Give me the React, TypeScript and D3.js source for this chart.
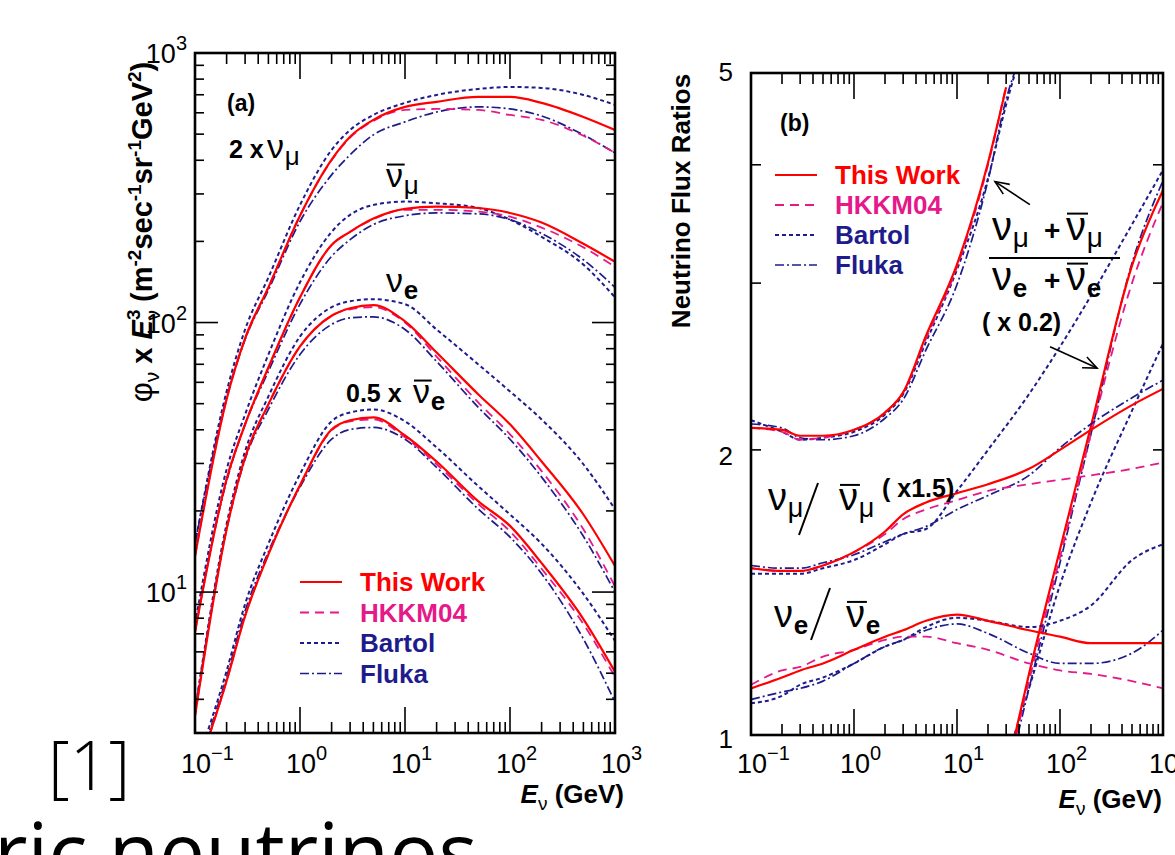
import React from "react";
import * as d3 from "d3";

// ---------- panel (a): flux x E^3 (plotted values, 2x numu and 0.5x nuebar already applied)
const energies = [0.1, 0.2, 0.3, 0.5, 1, 2, 3, 5, 10, 20, 50, 100, 200, 500, 1000];

const twoNumuThisWork = [13.6, 51.9, 87.3, 135, 249, 402, 489, 565, 631, 659, 687, 687, 653, 579, 518];
const twoNumuHKKM = [13.6, 52, 87, 135, 249, 400, 485, 560, 615, 620, 615, 589, 565, 493, 426];
const twoNumuBartol = [15.1, 55.5, 94.2, 147, 273, 437, 518, 589, 653, 699, 736, 748, 742, 699, 642];
const twoNumuFluka = [15.1, 52.7, 86.5, 132, 237, 353, 419, 497, 555, 604, 631, 620, 584, 497, 426];

const numubarThisWork = [7.11, 26.2, 41.9, 68.1, 124, 194, 217, 243, 264, 269, 266, 255, 235, 196, 168];
const numubarHKKM = [7.1, 26.3, 42, 68, 124, 194, 217, 242, 262, 262, 258, 247, 225, 190, 161];
const numubarBartol = [7.61, 28.5, 45.6, 76.1, 141, 217, 251, 273, 281, 277, 266, 241, 208, 164, 124];
const numubarFluka = [7.29, 25.8, 41.9, 65.9, 117, 176, 203, 231, 249, 255, 253, 241, 214, 171, 135];

const nueThisWork = [3.47, 17.1, 31.6, 49.7, 81.5, 106, 113, 116, 101, 77.4, 54.1, 41.9, 30.5, 19.4, 12.5];
const nueHKKM = [3.47, 17.1, 31.6, 49.7, 81.5, 106, 112, 114, 100, 74.8, 50.5, 38.5, 28.1, 17.1, 10.5];
const nueBartol = [3.62, 17.9, 33.3, 53.2, 88.7, 114, 120, 122, 117, 94.2, 69.9, 55.5, 43.7, 29.8, 20.3];
const nueFluka = [3.62, 17.1, 31.1, 47.6, 76.1, 98.4, 104, 105, 94.2, 71.7, 48.4, 36.9, 26.7, 16.1, 10.0];

const halfNuebarThisWork = [2.05, 4.68, 8.15, 13.8, 24.9, 40.1, 43.4, 44.5, 38.1, 30.5, 21.7, 17.6, 12.8, 7.94, 5.06];
const halfNuebarHKKM = [2.05, 4.68, 8.15, 13.8, 24.9, 39.8, 43.0, 43.7, 37.5, 29.8, 21.2, 16.8, 12.2, 7.61, 4.84];
const halfNuebarBartol = [2.21, 5.1, 9.03, 15.1, 27.4, 43.0, 46.4, 47.6, 43.0, 34.4, 24.7, 19.4, 15.1, 9.84, 6.59];
const halfNuebarFluka = [2.12, 4.84, 8.51, 14.1, 24.5, 36.9, 40.1, 40.8, 36.9, 29.0, 20.3, 16.0, 11.7, 6.7, 3.91];

// ---------- panel (b): flux ratios
const energiesFlavor = [0.1, 0.2, 0.3, 0.5, 1, 2, 3, 5, 10, 20, 30];
const energiesFlavorLong = [0.1, 0.2, 0.3, 0.5, 1, 2, 3, 5, 10, 20, 30, 40];
const flavorThisWork = [2.11, 2.1, 2.07, 2.07, 2.1, 2.19, 2.3, 2.64, 3.14, 4.02, 4.83];
const flavorHKKM = [2.11, 2.09, 2.05, 2.06, 2.1, 2.19, 2.3, 2.62, 3.12, 4.0, 4.85];
const flavorBartol = [2.15, 2.09, 2.05, 2.06, 2.09, 2.18, 2.29, 2.6, 3.1, 3.87, 4.63, 5.16];
const flavorFluka = [2.13, 2.11, 2.06, 2.05, 2.07, 2.16, 2.26, 2.55, 2.99, 3.85, 4.69, 5.16];

// (nu_mu + nu_mu-bar)/(nu_e + nu_e-bar) x 0.2
const energiesScaled = [30, 50, 100, 200, 500, 1000];
const scaledThisWork = [0.91, 1.16, 1.57, 2.12, 3.13, 3.76];
const scaledHKKM = [0.9, 1.14, 1.54, 2.08, 3.0, 3.65];
const scaledBartol = [0.94, 1.12, 1.44, 1.76, 2.2, 2.59];
const scaledFluka = [0.89, 1.12, 1.52, 2.08, 3.15, 3.85];

// nu_mu / nu_mu-bar x 1.5 and nu_e / nu_e-bar
const numuRatioThisWork = [1.5, 1.49, 1.49, 1.51, 1.56, 1.64, 1.71, 1.76, 1.8, 1.84, 1.91, 2.0, 2.1, 2.23, 2.32];
const numuRatioHKKM = [1.5, 1.49, 1.49, 1.51, 1.56, 1.63, 1.69, 1.73, 1.77, 1.81, 1.84, 1.86, 1.88, 1.91, 1.94];
const numuRatioBartol = [1.48, 1.48, 1.48, 1.5, 1.53, 1.59, 1.63, 1.65, 1.81, 2.0, 2.29, 2.57, 2.91, 3.46, 3.95];
const numuRatioFluka = [1.51, 1.5, 1.5, 1.52, 1.55, 1.6, 1.63, 1.66, 1.73, 1.79, 1.88, 2.01, 2.13, 2.27, 2.37];

const nueRatioThisWork = [1.12, 1.15, 1.17, 1.19, 1.23, 1.27, 1.29, 1.32, 1.34, 1.32, 1.29, 1.27, 1.25, 1.25, 1.25];
const nueRatioHKKM = [1.13, 1.17, 1.18, 1.21, 1.23, 1.26, 1.27, 1.27, 1.25, 1.23, 1.19, 1.17, 1.16, 1.14, 1.12];
const nueRatioBartol = [1.08, 1.1, 1.13, 1.15, 1.19, 1.24, 1.26, 1.3, 1.33, 1.32, 1.3, 1.32, 1.37, 1.53, 1.59];
const nueRatioFluka = [1.09, 1.11, 1.12, 1.14, 1.19, 1.24, 1.26, 1.29, 1.31, 1.28, 1.22, 1.19, 1.19, 1.22, 1.29];

const models = ["This Work", "HKKM04", "Bartol", "Fluka"];
const decades = [0.1, 1, 10, 100, 1000];
const decadeExps = ["\u22121", "0", "1", "2", "3"];
const fluxTicks = [10, 100, 1000];
const fluxTickExps = ["1", "2", "3"];
const ratioTicks = [1, 2, 5];

const FONT = "'Liberation Sans', Arial, Helvetica, sans-serif";
const RED = "#ff0000";
const PINK = "#e5198a";
const NAVY = "#1e1c8c";

const styles: Record<string, { stroke: string; width: number; dash?: string }> = {
  "This Work": { stroke: RED, width: 2.2 },
  HKKM04: { stroke: PINK, width: 1.8, dash: "9 6" },
  Bartol: { stroke: NAVY, width: 2, dash: "4 3" },
  Fluka: { stroke: NAVY, width: 1.7, dash: "9 3 2 3" },
};
const textColor: Record<string, string> = { "This Work": RED, HKKM04: PINK, Bartol: NAVY, Fluka: NAVY };

const drawOrder = ["Bartol", "Fluka", "HKKM04", "This Work"];

const fluxSeries = [
  { "This Work": twoNumuThisWork, HKKM04: twoNumuHKKM, Bartol: twoNumuBartol, Fluka: twoNumuFluka },
  { "This Work": numubarThisWork, HKKM04: numubarHKKM, Bartol: numubarBartol, Fluka: numubarFluka },
  { "This Work": nueThisWork, HKKM04: nueHKKM, Bartol: nueBartol, Fluka: nueFluka },
  { "This Work": halfNuebarThisWork, HKKM04: halfNuebarHKKM, Bartol: halfNuebarBartol, Fluka: halfNuebarFluka },
];

const ratioSeries = [
  {
    "This Work": [energiesFlavor, flavorThisWork],
    HKKM04: [energiesFlavor, flavorHKKM],
    Bartol: [energiesFlavorLong, flavorBartol],
    Fluka: [energiesFlavorLong, flavorFluka],
  },
  {
    "This Work": [energiesScaled, scaledThisWork],
    HKKM04: [energiesScaled, scaledHKKM],
    Bartol: [energiesScaled, scaledBartol],
    Fluka: [energiesScaled, scaledFluka],
  },
  {
    "This Work": [energies, numuRatioThisWork],
    HKKM04: [energies, numuRatioHKKM],
    Bartol: [energies, numuRatioBartol],
    Fluka: [energies, numuRatioFluka],
  },
  {
    "This Work": [energies, nueRatioThisWork],
    HKKM04: [energies, nueRatioHKKM],
    Bartol: [energies, nueRatioBartol],
    Fluka: [energies, nueRatioFluka],
  },
];

const isDecade = (t: number) => Math.abs(Math.log10(t) - Math.round(Math.log10(t))) < 1e-6;

function path(xs: number[], ys: number[], x: any, y: any) {
  return d3
    .line<number>()
    .x((_, i) => x(xs[i]))
    .y((d) => y(d))
    .curve(d3.curveMonotoneX)(ys) || "";
}

function Curve({ model, d }: { model: string; d: string }) {
  const s = styles[model];
  return <path d={d} fill="none" stroke={s.stroke} strokeWidth={s.width} strokeDasharray={s.dash} />;
}

function Frame({ x, y, yMajor, yMinor }: any) {
  const [x0, x1] = x.range();
  const [y0, y1] = y.range();
  const xt = x.ticks();
  const yt = y.ticks();
  return (
    <g stroke="#000" fill="none">
      {xt.map((t: number, i: number) => {
        const len = isDecade(t) ? 26 : 11;
        const px = x(t);
        return (
          <g key={"x" + i} strokeWidth={1.6}>
            <line x1={px} x2={px} y1={y0} y2={y0 - len} />
            <line x1={px} x2={px} y1={y1} y2={y1 + len} />
          </g>
        );
      })}
      {yt.map((t: number, i: number) => {
        const len = isDecade(t) ? yMajor : yMinor;
        const py = y(t);
        return (
          <g key={"y" + i} strokeWidth={1.6}>
            <line x1={x0} x2={x0 + len} y1={py} y2={py} />
            <line x1={x1} x2={x1 - len} y1={py} y2={py} />
          </g>
        );
      })}
      <rect x={x0} y={y1} width={x1 - x0} height={y0 - y1} strokeWidth={2.6} />
    </g>
  );
}

function XLabels({ x, yBase }: any) {
  return (
    <g fontFamily={FONT} fontSize={27}>
      {decades.map((d, i) => (
        <text key={i} x={x(d) - 14} y={yBase}>
          10
          <tspan fontSize={20} dy={-13}>
            {decadeExps[i]}
          </tspan>
        </text>
      ))}
    </g>
  );
}

function Legend({ x, y, gap }: { x: number; y: number; gap: number }) {
  return (
    <g fontFamily={FONT} fontWeight="bold" fontSize={26}>
      {models.map((m, i) => {
        const s = styles[m];
        const py = y + i * gap;
        return (
          <g key={m}>
            <line x1={x} x2={x + 42} y1={py} y2={py} stroke={s.stroke} strokeWidth={s.width} strokeDasharray={s.dash} />
            <text x={x + 60} y={py + 9} fill={textColor[m]}>
              {m}
            </text>
          </g>
        );
      })}
    </g>
  );
}

function Arrow({ from, to }: { from: number[]; to: number[] }) {
  const a = Math.atan2(to[1] - from[1], to[0] - from[0]);
  const h = 15;
  const w1 = [to[0] - h * Math.cos(a - 0.4), to[1] - h * Math.sin(a - 0.4)];
  const w2 = [to[0] - h * Math.cos(a + 0.4), to[1] - h * Math.sin(a + 0.4)];
  return (
    <g stroke="#000" strokeWidth={1.6} fill="none">
      <line x1={from[0]} y1={from[1]} x2={to[0]} y2={to[1]} />
      <polyline points={`${w1[0]},${w1[1]} ${to[0]},${to[1]} ${w2[0]},${w2[1]}`} />
    </g>
  );
}

// nu symbol with optional bar and subscript
function Nu({ x, y, bar, sub, subBold, size = 34, subSize = 26 }: any) {
  return (
    <g fontFamily={FONT}>
      {bar && <line x1={x + 1} x2={x + size * 0.55} y1={y - size * 0.66} y2={y - size * 0.66} stroke="#000" strokeWidth={2} />}
      <text x={x} y={y} fontSize={size}>
        ν
      </text>
      <text x={x + size * 0.52} y={y + 7} fontSize={subSize} fontWeight={subBold ? "bold" : "normal"}>
        {sub}
      </text>
    </g>
  );
}

export default function App() {
  const xA = d3.scaleLog().domain([0.1, 1000]).range([195, 615]);
  const yA = d3.scaleLog().domain([3, 1000]).range([733, 53]);
  const xB = d3.scaleLog().domain([0.1, 1000]).range([751, 1163]);
  const yB = d3.scaleLog().domain([1, 5]).range([735, 73]);

  const arrows = [
    { from: [51, 3.63], to: [23.4, 3.84] },
    { from: [80, 2.57], to: [229, 2.44] },
  ];

  return (
    <svg
      width={1175}
      height={855}
      style={{ position: "absolute", left: 0, top: 0, background: "#fff" }}
      fontFamily={FONT}
    >
      <defs>
        <clipPath id="clipA">
          <rect x={195} y={53} width={420} height={680} />
        </clipPath>
        <clipPath id="clipB">
          <rect x={751} y={73} width={412} height={662} />
        </clipPath>
      </defs>

      {/* ---------------- panel (a) ---------------- */}
      <g clipPath="url(#clipA)">
        {fluxSeries.map((grp, gi) =>
          drawOrder.map((m) => <Curve key={gi + m} model={m} d={path(energies, (grp as any)[m], xA, yA)} />)
        )}
      </g>
      <Frame x={xA} y={yA} yMajor={23} yMinor={9} />
      <XLabels x={xA} yBase={773} />
      <g fontSize={27}>
        {fluxTicks.map((t, i) => (
          <text key={t} x={187} y={yA(t) + 10} textAnchor="end">
            10
            <tspan fontSize={20} dy={-13}>
              {fluxTickExps[i]}
            </tspan>
          </text>
        ))}
      </g>
      <text transform="translate(152,232) rotate(-90)" textAnchor="middle" fontSize={29} fontWeight="bold">
        <tspan fontWeight="normal" fontSize={31}>φ</tspan>
        <tspan fontWeight="normal" fontSize={21} dy={7}>ν</tspan>
        <tspan dy={-7}> x </tspan>
        <tspan fontStyle="italic">E</tspan>
        <tspan fontSize={19} dy={-12}>3</tspan>
        <tspan fontSize={21} fontWeight="normal" dx={-11} dy={20}>ν</tspan>
        <tspan dy={-8}> (m</tspan>
        <tspan fontSize={19} dy={-11}>-2</tspan>
        <tspan dy={11}>sec</tspan>
        <tspan fontSize={19} dy={-11}>-1</tspan>
        <tspan dy={11}>sr</tspan>
        <tspan fontSize={19} dy={-11}>-1</tspan>
        <tspan dy={11}>GeV</tspan>
        <tspan fontSize={19} dy={-11}>2</tspan>
        <tspan dy={11}>)</tspan>
      </text>
      <text x={624} y={803} textAnchor="end" fontSize={26} fontWeight="bold">
        <tspan fontStyle="italic">E</tspan>
        <tspan fontWeight="normal" fontSize={19} dy={7}>ν</tspan>
        <tspan dy={-7}> (GeV)</tspan>
      </text>
      <text x={227} y={111} fontSize={23} fontWeight="bold">(a)</text>

      <text x={229} y={158} fontSize={25} fontWeight="bold">2 x</text>
      <Nu x={267} y={158} sub="μ" />
      <Nu x={386} y={187} sub="μ" bar />
      <Nu x={386} y={292} sub="e" subBold />
      <text x={346} y={402} fontSize={25} fontWeight="bold">0.5 x</text>
      <Nu x={413} y={403} sub="e" bar subBold />

      <Legend x={300} y={582} gap={30.5} />

      {/* ---------------- panel (b) ---------------- */}
      <g clipPath="url(#clipB)">
        {ratioSeries.map((grp, gi) =>
          drawOrder.map((m) => {
            const [xs, ys] = (grp as any)[m];
            return <Curve key={gi + m} model={m} d={path(xs, ys, xB, yB)} />;
          })
        )}
      </g>
      <Frame x={xB} y={yB} yMajor={10} yMinor={10} />
      <XLabels x={xB} yBase={773} />
      <g fontSize={26}>
        {ratioTicks.map((t) => (
          <text key={t} x={733} y={yB(t) + (t === 5 ? 8 : t === 2 ? 15 : 13)} textAnchor="end">
            {t}
          </text>
        ))}
      </g>
      <text transform="translate(690,201) rotate(-90)" textAnchor="middle" fontSize={26} fontWeight="bold">
        Neutrino Flux Ratios
      </text>
      <text x={1162} y={808} textAnchor="end" fontSize={26} fontWeight="bold">
        <tspan fontStyle="italic">E</tspan>
        <tspan fontWeight="normal" fontSize={19} dy={7}>ν</tspan>
        <tspan dy={-7}> (GeV)</tspan>
      </text>
      <text x={780} y={131} fontSize={23} fontWeight="bold">(b)</text>

      <Legend x={775} y={175} gap={30} />

      {/* flavour ratio label */}
      <Nu x={992} y={240} sub="μ" size={40} subSize={28} />
      <text x={1044} y={240} fontSize={28} fontWeight="bold">+</text>
      <Nu x={1066} y={240} sub="μ" bar size={40} subSize={28} />
      <line x1={989} x2={1120} y1={258} y2={258} stroke="#000" strokeWidth={1.8} />
      <Nu x={992} y={290} sub="e" subBold size={40} subSize={26} />
      <text x={1044} y={290} fontSize={28} fontWeight="bold">+</text>
      <Nu x={1066} y={290} sub="e" bar subBold size={40} subSize={26} />
      <text x={982} y={331} fontSize={25} fontWeight="bold">( x 0.2)</text>
      {arrows.map((a, i) => (
        <Arrow key={i} from={[xB(a.from[0]), yB(a.from[1])]} to={[xB(a.to[0]), yB(a.to[1])]} />
      ))}

      {/* numu / numubar label */}
      <Nu x={768} y={510} sub="μ" size={38} subSize={27} />
      <line x1={799} y1={535} x2={818} y2={483} stroke="#000" strokeWidth={2} />
      <Nu x={839} y={510} sub="μ" bar size={38} subSize={27} />
      <text x={882} y={497} fontSize={25} fontWeight="bold">( x1.5)</text>

      {/* nue / nuebar label */}
      <Nu x={774} y={627} sub="e" subBold size={38} subSize={26} />
      <line x1={811} y1={640} x2={830} y2={588} stroke="#000" strokeWidth={2} />
      <Nu x={846} y={627} sub="e" bar subBold size={38} subSize={26} />

      {/* slide residue around the figure */}
      <text x={48} y={790} fontSize={68} fontFamily="'Open Sans', sans-serif" fontWeight={300}>
        [1]
      </text>
      <text x={-6} y={882} fontSize={82} fontFamily="'Open Sans', sans-serif">
        ric neutrinos
      </text>
    </svg>
  );
}
